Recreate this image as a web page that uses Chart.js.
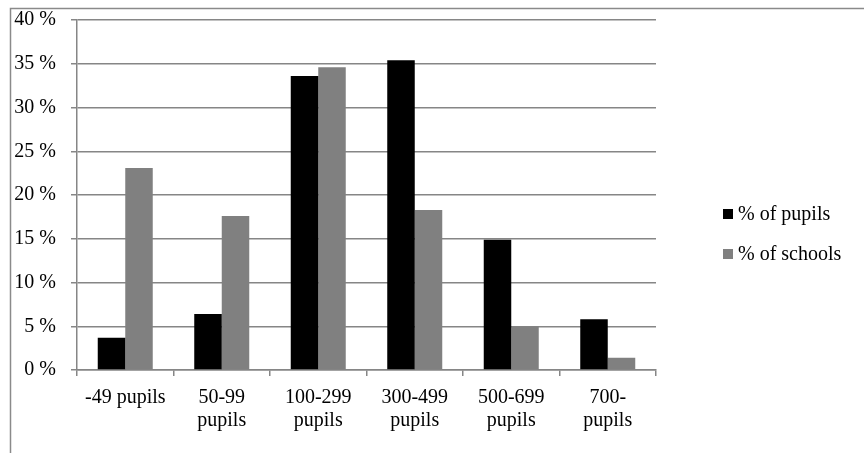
<!DOCTYPE html>
<html>
<head>
<meta charset="utf-8">
<script src="https://cdn.jsdelivr.net/npm/chart.js@4/dist/chart.umd.min.js"></script>
<style>
  html, body { margin: 0; padding: 0; background: #fff; }
  #wrap { width: 864px; height: 453px; position: relative; }
</style>
</head>
<body>
<div id="wrap"><canvas id="c"></canvas></div>
<script>
// School size groups
const categories = [
  '-49 pupils',
  ['50-99', 'pupils'],
  ['100-299', 'pupils'],
  ['300-499', 'pupils'],
  ['500-699', 'pupils'],
  ['700-', 'pupils']
];
// Share of pupils and of schools in each size group (%)
const pupilsShare = [3.7, 6.4, 33.6, 35.4, 14.9, 5.8];
const schoolsShare = [23.1, 17.6, 34.6, 18.3, 5.0, 1.4];
const seriesNames = ['% of pupils', '% of schools'];
const yTicks = [0, 5, 10, 15, 20, 25, 30, 35, 40];

const FONT = "'Liberation Serif', 'Times New Roman', serif";
const FONT_SIZE = 20;
const GRID = '#868686';

// Outer frame lines (top and left edges)
const framePlugin = {
  id: 'frame',
  beforeDraw(chart) {
    const ctx = chart.ctx;
    ctx.save();
    ctx.strokeStyle = '#8a8a8a';
    ctx.lineWidth = 1.5;
    ctx.beginPath();
    ctx.moveTo(10.5, chart.height);
    ctx.lineTo(10.5, 8.5);
    ctx.lineTo(chart.width, 8.5);
    ctx.stroke();
    ctx.restore();
  }
};

// Legend drawn at the right, beside the plot
const sideLegend = {
  id: 'sideLegend',
  afterDraw(chart) {
    const ctx = chart.ctx;
    ctx.save();
    ctx.font = FONT_SIZE + 'px ' + FONT;
    ctx.textBaseline = 'middle';
    ctx.textAlign = 'left';
    const x = 723, ys = [214, 254];
    chart.data.datasets.forEach((ds, i) => {
      ctx.fillStyle = ds.backgroundColor;
      ctx.fillRect(x, ys[i] - 5, 10, 10);
      ctx.fillStyle = '#000';
      ctx.fillText(ds.label, x + 15, ys[i] + 1);
    });
    ctx.restore();
  }
};

new Chart(document.getElementById('c'), {
  type: 'bar',
  data: {
    labels: categories,
    datasets: [
      { label: seriesNames[0], data: pupilsShare, backgroundColor: '#000000' },
      { label: seriesNames[1], data: schoolsShare, backgroundColor: '#808080' }
    ]
  },
  options: {
    responsive: true,
    maintainAspectRatio: false,
    animation: false,
    layout: { padding: { left: 0, right: 208, top: 20, bottom: 0 } },
    datasets: { bar: { categoryPercentage: 0.57, barPercentage: 1.0 } },
    plugins: { legend: { display: false }, tooltip: { enabled: false } },
    scales: {
      x: {
        offset: true,
        grid: { drawOnChartArea: false, drawTicks: true, tickLength: 6, color: GRID, lineWidth: 1.5 },
        border: { color: GRID, width: 1.5 },
        ticks: { color: '#000', font: { family: FONT, size: FONT_SIZE, lineHeight: 1.17 }, padding: 10, maxRotation: 0, autoSkip: false },
        afterFit(scale) { scale.height = 83; }
      },
      y: {
        min: 0, max: 40,
        afterBuildTicks(scale) { scale.ticks = yTicks.map(v => ({ value: v })); },
        grid: { color: GRID, lineWidth: 1.5, tickLength: 6 },
        border: { color: GRID, width: 1.5 },
        ticks: { color: '#000', font: { family: FONT, size: FONT_SIZE }, padding: 15, callback: v => v + ' %' },
        afterFit(scale) { scale.width = 77; scale.paddingTop = 0; scale.paddingBottom = 0; }
      }
    }
  },
  plugins: [framePlugin, sideLegend]
});
</script>
</body>
</html>
